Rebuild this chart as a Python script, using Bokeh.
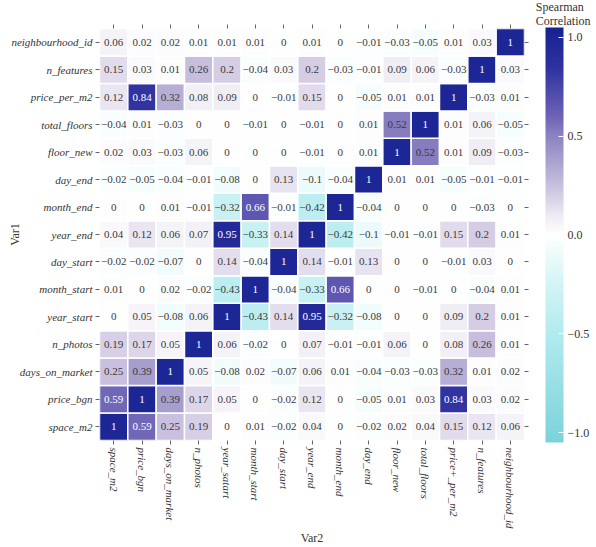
import numpy as np
from bokeh.plotting import figure
from bokeh.models import (ColumnDataSource, LinearColorMapper, ColorBar, FixedTicker,
                          CategoricalAxis, CustomJSTickFormatter, Title)
from bokeh.embed import file_html
from bokeh.resources import INLINE
from bokeh.core.properties import value

# Column variables (Var2), left to right
x_labels = ["space_m2", "price_bgn", "days_on_market", "n_photos", "year_satart",
            "month_start", "day_start", "year_end", "month_end", "day_end",
            "floor_new", "total_floors", "price+_per_m2", "n_features", "neighbourhood_id"]

# Row variables (Var1), bottom to top
y_labels = ["space_m2", "price_bgn", "days_on_market", "n_photos", "year_start",
            "month_start", "day_start", "year_end", "month_end", "day_end",
            "floor_new", "total_floors", "price_per_m2", "n_features", "neighbourhood_id"]

# Spearman correlations, one list per row (values along the columns above)
r_space_m2 = [1, 0.59, 0.25, 0.19, 0, 0.01, -0.02, 0.04, 0, -0.02, 0.02, 0.04, 0.15, 0.12, 0.06]
r_price_bgn = [0.59, 1, 0.39, 0.17, 0.05, 0, -0.02, 0.12, 0, -0.05, 0.01, 0.03, 0.84, 0.03, 0.02]
r_days_on_market = [0.25, 0.39, 1, 0.05, -0.08, 0.02, -0.07, 0.06, 0.01, -0.04, -0.03, -0.03, 0.32, 0.01, 0.02]
r_n_photos = [0.19, 0.17, 0.05, 1, 0.06, -0.02, 0, 0.07, -0.01, -0.01, 0.06, 0, 0.08, 0.26, 0.01]
r_year_start = [0, 0.05, -0.08, 0.06, 1, -0.43, 0.14, 0.95, -0.32, -0.08, 0, 0, 0.09, 0.2, 0.01]
r_month_start = [0.01, 0, 0.02, -0.02, -0.43, 1, -0.04, -0.33, 0.66, 0, 0, -0.01, 0, -0.04, 0.01]
r_day_start = [-0.02, -0.02, -0.07, 0, 0.14, -0.04, 1, 0.14, -0.01, 0.13, 0, 0, -0.01, 0.03, 0]
r_year_end = [0.04, 0.12, 0.06, 0.07, 0.95, -0.33, 0.14, 1, -0.42, -0.1, -0.01, -0.01, 0.15, 0.2, 0.01]
r_month_end = [0, 0, 0.01, -0.01, -0.32, 0.66, -0.01, -0.42, 1, -0.04, 0, 0, 0, -0.03, 0]
r_day_end = [-0.02, -0.05, -0.04, -0.01, -0.08, 0, 0.13, -0.1, -0.04, 1, 0.01, 0.01, -0.05, -0.01, -0.01]
r_floor_new = [0.02, 0.03, -0.03, 0.06, 0, 0, 0, -0.01, 0, 0.01, 1, 0.52, 0.01, 0.09, -0.03]
r_total_floors = [-0.04, 0.01, -0.03, 0, 0, -0.01, 0, -0.01, 0, 0.01, 0.52, 1, 0.01, 0.06, -0.05]
r_price_per_m2 = [0.12, 0.84, 0.32, 0.08, 0.09, 0, -0.01, 0.15, 0, -0.05, 0.01, 0.01, 1, -0.03, 0.01]
r_n_features = [0.15, 0.03, 0.01, 0.26, 0.2, -0.04, 0.03, 0.2, -0.03, -0.01, 0.09, 0.06, -0.03, 1, 0.03]
r_neighbourhood_id = [0.06, 0.02, 0.02, 0.01, 0.01, 0.01, 0, 0.01, 0, -0.01, -0.03, -0.05, 0.01, 0.03, 1]

matrix = [r_space_m2, r_price_bgn, r_days_on_market, r_n_photos, r_year_start,
          r_month_start, r_day_start, r_year_end, r_month_end, r_day_end,
          r_floor_new, r_total_floors, r_price_per_m2, r_n_features, r_neighbourhood_id]

colorbar_ticks = [-1.0, -0.5, 0.0, 0.5, 1.0]

# ---- colour palette (diverging cyan - white - lavender - navy) ----
stops = [(-1.05, "#7bd3da"), (-0.5, "#b2ebef"), (-0.25, "#d3f4f5"), (0.0, "#ffffff"),
         (0.1, "#eeebf4"), (0.2, "#d5cde4"), (0.35, "#b0a8d1"), (0.5, "#8c84c2"),
         (0.6, "#6d64b6"), (0.7, "#5550ae"), (0.85, "#2e329f"), (1.05, "#182292")]
def hex2rgb(h):
    h = h.lstrip("#")
    return [int(h[i:i + 2], 16) for i in (0, 2, 4)]
sp = np.array([s[0] for s in stops])
sc = np.array([hex2rgb(s[1]) for s in stops], dtype=float)
grid = np.linspace(-1.05, 1.05, 256)
palette = []
for g in grid:
    rgb = [int(round(np.interp(g, sp, sc[:, k]))) for k in range(3)]
    palette.append("#%02x%02x%02x" % tuple(rgb))

mapper = LinearColorMapper(palette=palette, low=-1.05, high=1.05)

xs, ys, vs, labs, tcs = [], [], [], [], []
for yi, row in enumerate(matrix):
    for xi, v in enumerate(row):
        xs.append(x_labels[xi])
        ys.append(y_labels[yi])
        vs.append(v)
        s = f"{abs(v):g}"
        labs.append(("\u2212" + s) if v < 0 else s)
        tcs.append("#ffffff" if v >= 0.55 else "#3a3a3a")

src = ColumnDataSource(dict(x=xs, y=ys, v=vs, label=labs, tc=tcs))

SERIF = "Liberation Serif"

p = figure(width=596, height=547, x_range=x_labels, y_range=y_labels,
           toolbar_location=None, output_backend="svg",
           x_axis_label="Var2", y_axis_label="Var1",
           min_border_left=99, min_border_right=72, min_border_top=28, min_border_bottom=106)
p.outline_line_color = None
p.grid.grid_line_color = None
p.background_fill_color = "white"
p.border_fill_color = "white"

p.rect(x="x", y="y", width=1, height=1, source=src,
       fill_color={"field": "v", "transform": mapper},
       line_color="white", line_width=1.5)
p.text(x="x", y="y", text="label", source=src, text_align="center",
       text_baseline="middle", text_font=value(SERIF), text_font_size="11px",
       text_color="tc")

for ax in (p.xaxis[0], p.yaxis[0]):
    ax.axis_line_color = None
    ax.major_tick_line_color = "#666666"
    ax.major_tick_out = 4
    ax.major_tick_in = 0
    ax.major_label_text_font = SERIF
    ax.major_label_text_font_style = "italic"
    ax.major_label_text_font_size = "11px"
    ax.major_label_text_color = "#333333"
    ax.major_label_standoff = 3
    ax.axis_label_text_font = SERIF
    ax.axis_label_text_font_style = "normal"
    ax.axis_label_text_font_size = "12px"
    ax.axis_label_text_color = "#333333"
p.xaxis.major_label_orientation = "vertical"
p.yaxis.axis_label_standoff = -14
p.xaxis.axis_label_standoff = -1

for side in ("right", "above"):
    ax = CategoricalAxis(axis_line_color=None, major_tick_line_color="#666666",
                         major_tick_out=4, major_tick_in=0,
                         major_label_text_font_size="0px", major_label_text_color=None,
                         major_label_standoff=0)
    p.add_layout(ax, side)

fmt = CustomJSTickFormatter(code="""
    const s = Math.abs(tick).toFixed(1);
    return tick < 0 ? "\\u2212" + s : s;
""")
cb = ColorBar(color_mapper=mapper, width=18, height=415, location=(17, -2),
              ticker=FixedTicker(ticks=colorbar_ticks), formatter=fmt,
              major_tick_line_color="white", major_tick_in=5, major_tick_out=0,
              minor_tick_line_color=None, bar_line_color=None, border_line_color=None,
              major_label_text_font=SERIF, major_label_text_font_size="12px",
              major_label_text_color="#333333", label_standoff=4,
              margin=0, padding=0, background_fill_color=None)
p.add_layout(cb, "right")

cb_title = Title(text="Spearman\nCorrelation", align="right", offset=-66,
                 standoff=-6, text_font=SERIF, text_font_size="12px",
                 text_font_style="normal", text_color="#333333", text_line_height=1.0)
p.add_layout(cb_title, "above")

open("out.html", "w").write(file_html(p, INLINE))
